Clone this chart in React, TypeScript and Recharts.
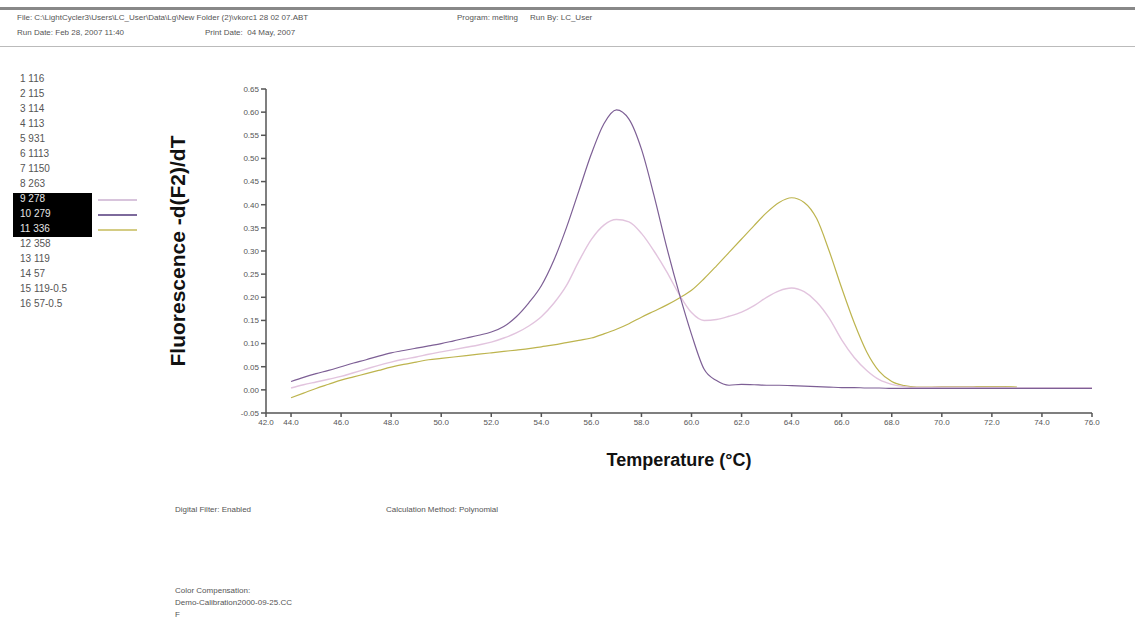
import { LineChart, Line, XAxis, YAxis, Label } from "recharts";

const temps = [
  44, 44.5, 45, 45.5, 46, 46.5, 47, 47.5, 48, 48.5, 49, 49.5, 50, 50.5, 51, 51.5,
  52, 52.5, 53, 53.5, 54, 54.5, 55, 55.5, 56, 56.5, 57, 57.5, 58, 58.5, 59, 59.5,
  60, 60.5, 61, 61.5, 62, 62.5, 63, 63.5, 64, 64.5, 65, 65.5, 66, 66.5, 67, 67.5,
  68, 68.5, 69, 69.5, 70, 70.5, 71, 71.5, 72, 72.5, 73, 73.5, 74, 74.5, 75, 75.5, 76,
];

// sample 9 278
const s278 = [
  0.004, 0.011, 0.017, 0.023, 0.029, 0.037, 0.045, 0.053, 0.06, 0.066, 0.071, 0.077, 0.082, 0.087, 0.092, 0.097,
  0.103, 0.112, 0.123, 0.138, 0.158, 0.187, 0.225, 0.278, 0.325, 0.356, 0.368, 0.363, 0.338, 0.3, 0.256, 0.207,
  0.167, 0.15, 0.152, 0.159, 0.168, 0.182, 0.2, 0.214, 0.22, 0.212, 0.19, 0.155, 0.108, 0.07, 0.042, 0.022,
  0.012, 0.007, 0.005, 0.005, 0.006, 0.006, 0.006, 0.005, 0.005, 0.005, 0.004, 0.004, 0.004, 0.004, 0.004, 0.004, 0.004,
];

// sample 10 279
const s279 = [
  0.018, 0.027, 0.035, 0.042, 0.05, 0.058, 0.065, 0.073, 0.08, 0.085, 0.09, 0.095, 0.1, 0.106, 0.112, 0.118,
  0.125, 0.137, 0.158, 0.188, 0.225, 0.28, 0.35, 0.43, 0.51, 0.575, 0.605, 0.585, 0.52, 0.42, 0.31, 0.21,
  0.12, 0.045, 0.02, 0.01, 0.012, 0.011, 0.01, 0.01, 0.009, 0.008, 0.007, 0.006, 0.005, 0.005, 0.004, 0.004,
  0.003, 0.003, 0.003, 0.003, 0.003, 0.003, 0.003, 0.003, 0.003, 0.003, 0.003, 0.003, 0.003, 0.003, 0.003, 0.003, 0.003,
];

// sample 11 336
const s336 = [
  -0.017, -0.007, 0.003, 0.012, 0.021, 0.028, 0.035, 0.042, 0.049, 0.055, 0.06, 0.065, 0.068, 0.071, 0.074, 0.077,
  0.08, 0.083, 0.086, 0.089, 0.093, 0.097, 0.102, 0.107, 0.112, 0.121, 0.131, 0.143, 0.157, 0.17, 0.183, 0.198,
  0.215, 0.24, 0.268, 0.297, 0.326, 0.355, 0.383, 0.405, 0.415, 0.405, 0.37, 0.3, 0.22, 0.145, 0.082, 0.04,
  0.018, 0.009, 0.006, 0.006, 0.007, 0.007, 0.007, 0.007, 0.007, 0.007, 0.006, null, null, null, null, null, null,
];

const xTicks = [43, 44, 46, 48, 50, 52, 54, 56, 58, 60, 62, 64, 66, 68, 70, 72, 74, 76];
const yTicks = [-0.05, 0, 0.05, 0.1, 0.15, 0.2, 0.25, 0.3, 0.35, 0.4, 0.45, 0.5, 0.55, 0.6, 0.65];

const samples = [
  "1 116", "2 115", "3 114", "4 113", "5 931", "6 1113", "7 1150", "8 263",
  "9 278", "10 279", "11 336", "12 358", "13 119", "14 57", "15 119-0.5", "16 57-0.5",
];
const highlighted: Record<string, string> = {
  "9 278": "#d8c4dc",
  "10 279": "#7d6a9c",
  "11 336": "#d4cc84",
};

const data = temps.map((t, i) => ({ t, s278: s278[i], s279: s279[i], s336: s336[i] }));

const font = "'Liberation Sans', Arial, sans-serif";

export default function App() {
  const small = { position: "absolute" as const, fontSize: 8, color: "#555", fontFamily: font, whiteSpace: "pre" as const };
  return (
    <div style={{ position: "absolute", left: 0, top: 0, width: 1135, height: 632, background: "#fff", overflow: "hidden" }}>
      <div style={{ position: "absolute", left: 0, top: 7, width: 1135, height: 3, background: "#888" }} />
      <div style={{ ...small, left: 17, top: 13 }}>File: C:\LightCycler3\Users\LC_User\Data\Lg\New Folder (2)\vkorc1 28 02 07.ABT</div>
      <div style={{ ...small, left: 457, top: 13 }}>Program: melting</div>
      <div style={{ ...small, left: 530, top: 13 }}>Run By: LC_User</div>
      <div style={{ ...small, left: 17, top: 28 }}>Run Date: Feb 28, 2007 11:40</div>
      <div style={{ ...small, left: 205, top: 28 }}>Print Date:  04 May, 2007</div>
      <div style={{ position: "absolute", left: 0, top: 46, width: 1135, height: 1, background: "#bbb" }} />

      <div style={{ position: "absolute", left: 13, top: 193, width: 79, height: 44, background: "#000" }} />
      {samples.map((s, i) => (
        <div key={s}>
          <div style={{ ...small, fontSize: 10, left: 20, top: 73 + i * 15, color: highlighted[s] ? "#e6e6e6" : "#555" }}>{s}</div>
          {highlighted[s] && (
            <div style={{ position: "absolute", left: 98, top: 199 + (i - 8) * 15, width: 39, height: 1.5, background: highlighted[s] }} />
          )}
        </div>
      ))}

      <div style={{ position: "absolute", left: 0, top: 0 }}>
        <LineChart width={1135} height={632} data={data} margin={{ top: 89, right: 43, bottom: 189, left: 206 }}>
          <XAxis
            dataKey="t"
            type="number"
            domain={[43, 76]}
            ticks={xTicks}
            tickFormatter={(v: number) => (v === 43 ? "42.0" : v.toFixed(1))}
            height={30}
            stroke="#555"
            strokeWidth={1.5}
            tickSize={4}
            tick={{ fontSize: 8, fill: "#555", fontFamily: font }}
            interval={0}
          >
            <Label value="Temperature (°C)" position="bottom" offset={10} style={{ fontSize: 18, fontWeight: "bold", fill: "#111", fontFamily: font }} />
          </XAxis>
          <YAxis
            type="number"
            domain={[-0.05, 0.65]}
            ticks={yTicks}
            tickFormatter={(v: number) => v.toFixed(2)}
            width={60}
            stroke="#555"
            strokeWidth={1.5}
            tickSize={5}
            tick={{ fontSize: 8, fill: "#555", fontFamily: font }}
            interval={0}
            allowDataOverflow
          >
            <Label value="Fluorescence -d(F2)/dT" angle={-90} position="left" offset={28} style={{ fontSize: 21, fontWeight: "bold", fill: "#111", fontFamily: font, textAnchor: "middle" }} />
          </YAxis>
          <Line type="monotone" dataKey="s336" stroke="#bdb44e" strokeWidth={1.2} dot={false} isAnimationActive={false} />
          <Line type="monotone" dataKey="s278" stroke="#e2c4de" strokeWidth={1.4} dot={false} isAnimationActive={false} />
          <Line type="monotone" dataKey="s279" stroke="#7d5f95" strokeWidth={1.2} dot={false} isAnimationActive={false} />
        </LineChart>
      </div>

      <div style={{ ...small, left: 175, top: 505 }}>Digital Filter: Enabled</div>
      <div style={{ ...small, left: 386, top: 505 }}>Calculation Method: Polynomial</div>
      <div style={{ ...small, left: 175, top: 586 }}>Color Compensation:</div>
      <div style={{ ...small, left: 175, top: 598 }}>Demo-Calibration2000-09-25.CC</div>
      <div style={{ ...small, left: 175, top: 610 }}>F</div>
    </div>
  );
}
